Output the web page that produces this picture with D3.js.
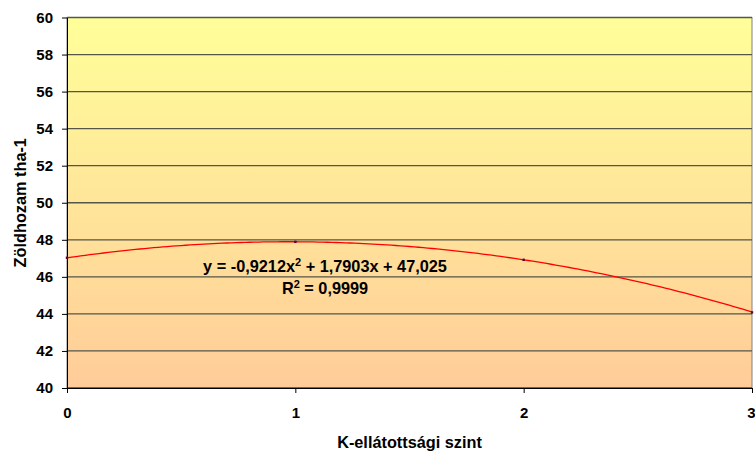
<!DOCTYPE html>
<html><head><meta charset="utf-8">
<script src="https://cdn.jsdelivr.net/npm/d3@7"></script>
<style>body{margin:0;background:#fff;} text{font-family:"Liberation Sans",Arial,sans-serif;font-weight:bold;}</style>
</head><body><svg id="c" width="755" height="456"></svg>
<script>
const xTicks = [0, 1, 2, 3];
const yTicks = [40, 42, 44, 46, 48, 50, 52, 54, 56, 58, 60];
const levels = [0, 1, 2, 3];
const yields = [47.03, 47.89, 46.92, 44.08];
const trendCoef = [-0.9212, 1.7903, 47.025]; // a, b, c
const eqText = "y = -0,9212x";
const eqRest = " + 1,7903x + 47,025";
const xTitle = "K-ellátottsági szint";
const yTitle = "Zöldhozam tha-1";

const FS = 15;
const FT = 16.3;
const svg = d3.select("#c");
const m = {l: 67, r: 752, t: 17.5, b: 388};
const x = d3.scaleLinear().domain([0, 3]).range([m.l, m.r]);
const y = d3.scaleLinear().domain([40, 60]).range([m.b, m.t]);

const defs = svg.append("defs");
const g = defs.append("linearGradient").attr("id", "bg").attr("x1", 0).attr("y1", 0).attr("x2", 0).attr("y2", 1);
g.append("stop").attr("offset", "0%").attr("stop-color", "#FFFF99");
g.append("stop").attr("offset", "100%").attr("stop-color", "#FFCC99");

svg.append("rect").attr("x", m.l).attr("y", m.t).attr("width", m.r - m.l).attr("height", m.b - m.t)
  .attr("fill", "url(#bg)").attr("stroke", "#808080").attr("stroke-width", 1);

// gridlines
svg.append("g").selectAll("line").data(yTicks).join("line")
  .attr("x1", m.l).attr("x2", m.r).attr("y1", d => y(d)).attr("y2", d => y(d))
  .attr("stroke", "#555548").attr("stroke-width", 1.3);

// y axis
const ya = svg.append("g").attr("transform", `translate(${m.l},0)`)
  .call(d3.axisLeft(y).tickValues(yTicks).tickSize(5).tickPadding(9).tickSizeOuter(0));
ya.select(".domain").attr("stroke", "#000").attr("stroke-width", 1);
ya.selectAll(".tick line").attr("stroke", "#000");
ya.selectAll("text").attr("font-size", FS).attr("fill", "#000").style("font-family", "'Liberation Sans', Arial").style("font-weight", "bold");

// x axis
const xa = svg.append("g").attr("transform", `translate(0,${m.b})`)
  .call(d3.axisBottom(x).tickValues(xTicks).tickFormat(d3.format("d")).tickSize(5).tickPadding(14).tickSizeOuter(0));
xa.select(".domain").attr("stroke", "#000");
xa.selectAll(".tick line").attr("stroke", "#000");
xa.selectAll("text").attr("font-size", FS).attr("fill", "#000").style("font-family", "'Liberation Sans', Arial").style("font-weight", "bold");
xa.selectAll(".tick text").filter(d => d === 3).attr("text-anchor", "end").attr("dx", 3);

// trendline
const line = d3.line().x(d => x(d[0])).y(d => y(d[1]));
const pts = d3.range(0, 3.0001, 0.02).map(t => [t, trendCoef[0]*t*t + trendCoef[1]*t + trendCoef[2]]);
svg.append("path").attr("d", line(pts)).attr("fill", "none").attr("stroke", "#FF0000").attr("stroke-width", 1.3);

// data markers
svg.append("g").selectAll("rect").data(levels).join("rect")
  .attr("x", (d) => x(d) - 1.2).attr("y", (d, i) => y(yields[i]) - 1.2)
  .attr("width", 2.4).attr("height", 2.4).attr("fill", "#660033");

// equation
const eq = svg.append("text").attr("x", 325).attr("y", 272).attr("text-anchor", "middle").attr("font-size", FT).attr("fill", "#000");
eq.append("tspan").text(eqText);
eq.append("tspan").attr("dy", -6).attr("font-size", 11).text("2");
eq.append("tspan").attr("dy", 6).text(eqRest);
const r2 = svg.append("text").attr("x", 325).attr("y", 294).attr("text-anchor", "middle").attr("font-size", FT).attr("fill", "#000");
r2.append("tspan").text("R");
r2.append("tspan").attr("dy", -6).attr("font-size", 11).text("2");
r2.append("tspan").attr("dy", 6).text(" = 0,9999");

// titles
svg.append("text").attr("x", (m.l + m.r) / 2).attr("y", 448).attr("text-anchor", "middle")
  .attr("font-size", FT).text(xTitle);
svg.append("text").attr("transform", `translate(26,${(m.t + m.b) / 2}) rotate(-90)`).attr("text-anchor", "middle")
  .attr("font-size", FT).text(yTitle);
</script></body></html>
